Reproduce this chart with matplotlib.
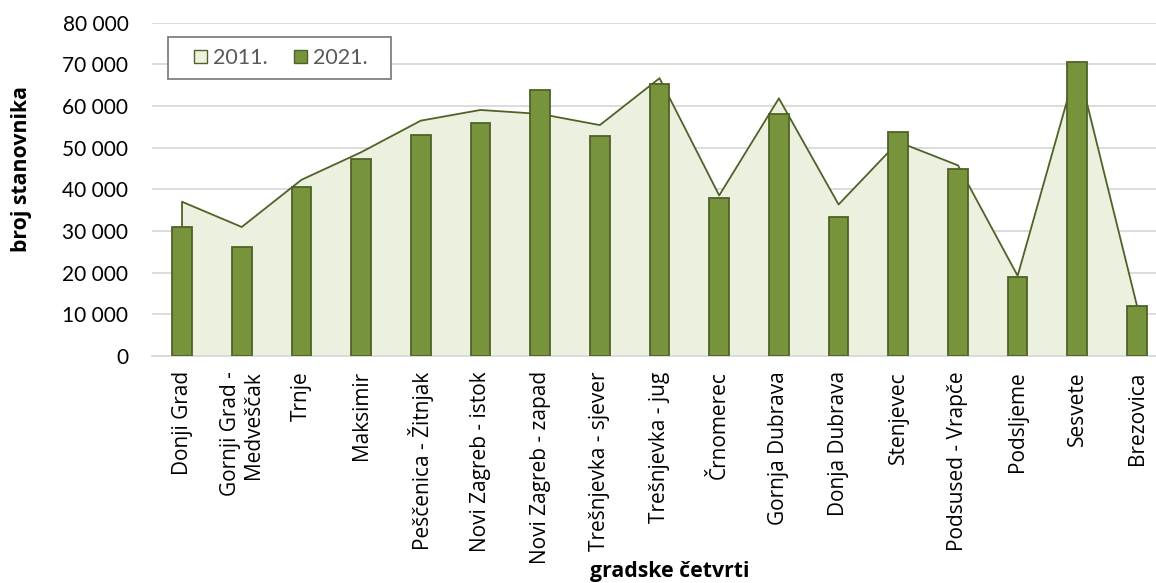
import matplotlib.pyplot as plt
import numpy as np
from matplotlib.patches import Patch, Rectangle

# gradske četvrti Zagreba, broj stanovnika 2011. vs 2021.
districts = [
    "Donji Grad", "Gornji Grad -\nMedveščak", "Trnje", "Maksimir",
    "Peščenica - Žitnjak", "Novi Zagreb - istok", "Novi Zagreb - zapad",
    "Trešnjevka - sjever", "Trešnjevka - jug", "Črnomerec", "Gornja Dubrava",
    "Donja Dubrava", "Stenjevec", "Podsused - Vrapče", "Podsljeme",
    "Sesvete", "Brezovica",
]
pop_2011 = [37024, 30962, 42282, 48902, 56487, 59055, 58103, 55425, 66674,
            38546, 61841, 36363, 51390, 45759, 19249, 70009, 12030]
pop_2021 = [31030, 26250, 40480, 47280, 53040, 55840, 63840, 52880, 65280,
            38000, 58160, 33440, 53760, 44800, 18880, 70640, 12000]
yticks = list(range(0, 80001, 10000))

AREA_FILL = "#EBF1DE"
BAR_FILL = "#77933C"
EDGE = "#4F6228"
GRID = "#D9D9D9"

W, H = 1156, 583
fig = plt.figure(figsize=(W / 100, H / 100), dpi=100)
ax = fig.add_axes([152 / W, 1 - 356 / H, (W - 152) / W, (356 - 22.7) / H])

x = np.arange(len(districts))
ax.fill_between(x, pop_2011, 0, facecolor=AREA_FILL, linewidth=0, zorder=2)
ax.plot(np.r_[x[0], x, x[-1]], np.r_[0, pop_2011, 0], color=EDGE, lw=1.3, zorder=2.2)
ax.bar(x, pop_2021, width=0.33, color=BAR_FILL, edgecolor=EDGE, linewidth=1.3, zorder=3)

ax.set_xlim(-0.503, 16.318)
ax.set_ylim(0, 80000)
ax.set_yticks(yticks)
ax.yaxis.set_major_formatter(lambda v, p: f"{int(v):,}".replace(",", " "))
ax.grid(axis="y", color=GRID, lw=1.3, zorder=0)
ax.set_axisbelow(True)
for s in ("top", "right", "left"):
    ax.spines[s].set_visible(False)
ax.spines["bottom"].set_color(GRID)
ax.spines["bottom"].set_linewidth(1.3)
ax.spines["bottom"].set_zorder(2.5)

ax.set_xticks(x)
ax.set_xticklabels(districts, rotation=90, ha="center", va="top", multialignment="right",
                   fontfamily="Open Sans", fontsize=15, linespacing=1.1)
ax.tick_params(axis="x", length=0, pad=11)
ax.tick_params(axis="y", length=0, pad=17, labelsize=15)
for t in ax.get_yticklabels():
    t.set_fontfamily("Lato")

fig.text(22 / W, 1 - 169 / H, "broj stanovnika", rotation=90, ha="center", va="center",
         fontfamily="Open Sans", fontweight="bold", fontsize=15.3)
fig.text(670 / W, 1 - 572 / H, "gradske četvrti", ha="center", va="center",
         fontfamily="Open Sans", fontweight="bold", fontsize=15.3)

# legend box drawn separately so the padding can match Excel's
ax.add_patch(Rectangle((168 / W, 1 - 79 / H), (391 - 168) / W, (79 - 37) / H,
                       transform=fig.transFigure, facecolor="white", clip_on=False,
                       edgecolor="#808080", lw=1.3, zorder=5))
handles = [Patch(facecolor=AREA_FILL, edgecolor=EDGE, label="2011."),
           Patch(facecolor=BAR_FILL, edgecolor=EDGE, label="2021.")]
leg = ax.legend(handles=handles, ncol=2, loc="center left",
                bbox_to_anchor=(194 / W, 1 - 58 / H), bbox_transform=fig.transFigure,
                frameon=False, prop={"family": "Lato", "size": 15.5},
                handlelength=0.6, handleheight=0.6, handletextpad=0.3,
                columnspacing=1.2, borderpad=0, borderaxespad=0)
leg.set_zorder(6)
for t in leg.get_texts():
    t.set_color("#595959")

fig.savefig("out.png", dpi=100)
